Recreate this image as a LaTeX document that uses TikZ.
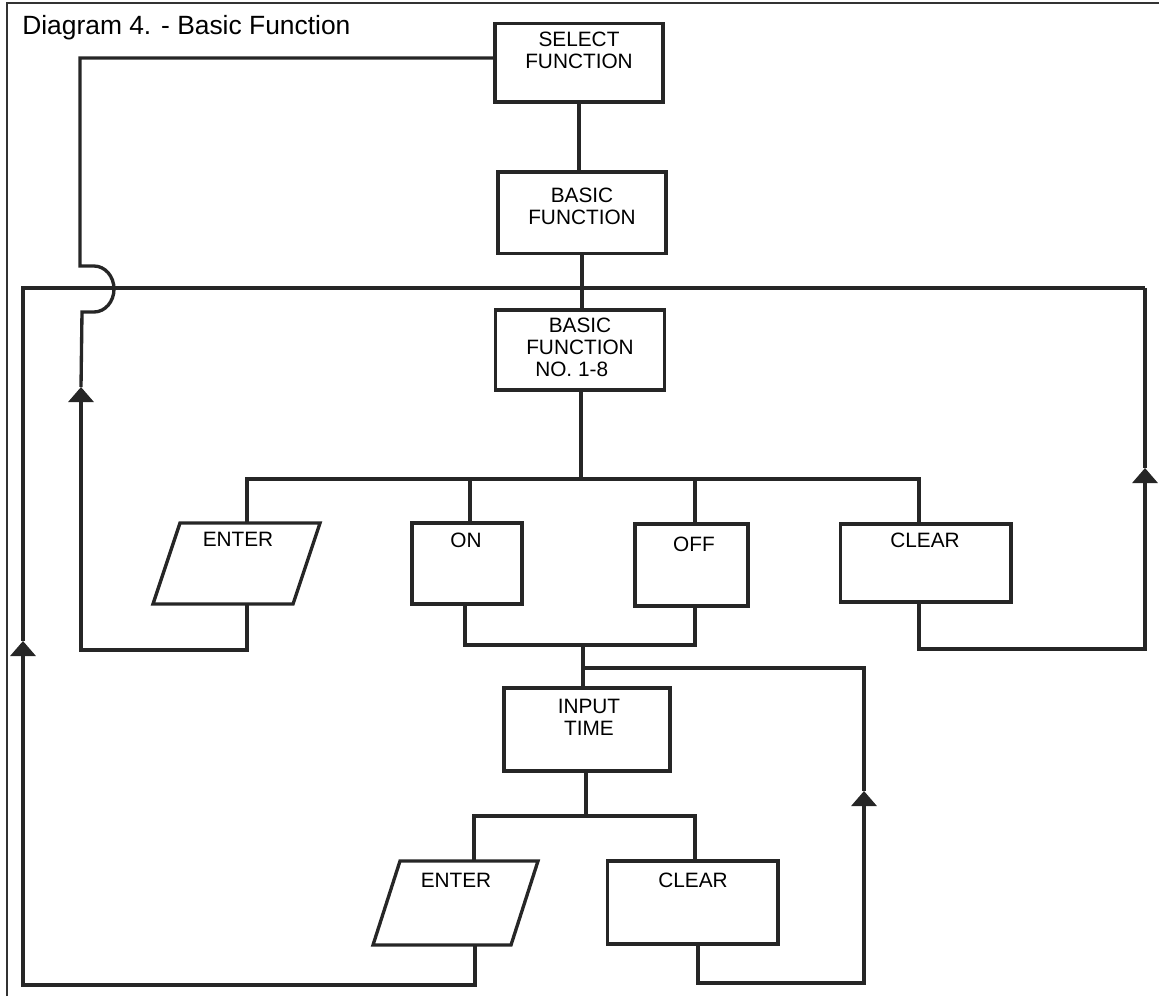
\documentclass[tikz,border=0pt]{standalone}
\usepackage{fontspec}
\setmainfont{Liberation Sans}
\usetikzlibrary{arrows.meta}

\begin{document}
\begin{tikzpicture}[x=0.75pt,y=-0.75pt,
  wire/.style={line width=2.5pt, draw=black!85},
  box/.style={draw=black!85, line width=2.5pt, rectangle, inner sep=0pt},
  para/.style={draw=black!85, line width=2.5pt, line join=miter},
  lab/.style={font=\fontsize{15.6}{16.5}\selectfont, align=center,
    inner sep=0pt, anchor=north},
  up/.style={-{Triangle[width=18.75pt,length=11.25pt]}},
  frame/.style={line width=1.2pt, draw=black!80},
]
\useasboundingbox (0,0) rectangle (1159,996);

% page frame (top and left edges)
\draw[frame] (7,996) -- (7,3) -- (1159,3);

% title
\node[anchor=base west, inner sep=0pt, font=\fontsize{19.8}{23}\selectfont]
  (title) at (22,34) {Diagram 4. - Basic Function};

% rectangular boxes
\node[box, minimum width=126pt, minimum height=59pt] (sel) at (579,62.5) {};
\node[box, minimum width=126pt, minimum height=61pt] (bf)  at (582,212.5) {};
\node[box, minimum width=127pt, minimum height=60pt] (bf8) at (580,350) {};
\node[box, minimum width=82.5pt, minimum height=60.75pt] (on)  at (467,563.5) {};
\node[box, minimum width=84.75pt, minimum height=61.5pt] (off) at (691.5,565) {};
\node[box, minimum width=128pt, minimum height=58.5pt] (clr1) at (925.5,563) {};
\node[box, minimum width=124.5pt, minimum height=62.25pt] (inp) at (587,729.5) {};
\node[box, minimum width=128pt, minimum height=62.25pt] (clr2) at (692.5,902.5) {};

% ENTER parallelograms
\coordinate (e1tl) at (180,523); \coordinate (e1tr) at (320,523);
\coordinate (e1br) at (293,604); \coordinate (e1bl) at (153,604);
\draw[para] (e1tl) -- (e1tr) -- (e1br) -- (e1bl) -- cycle;
\coordinate (e2tl) at (400,861); \coordinate (e2tr) at (538,861);
\coordinate (e2br) at (511,945); \coordinate (e2bl) at (373,945);
\draw[para] (e2tl) -- (e2tr) -- (e2br) -- (e2bl) -- cycle;

% labels
\node[lab] (tsel) at (579,32) {SELECT\\FUNCTION};
\node[lab] (tbf)  at (582,188) {BASIC\\FUNCTION};
\node[lab] (tbf8) at (580,318) {BASIC\\FUNCTION\\NO. 1-8\hspace*{12.5pt}};
\node[lab] (tent1) at (238,532) {ENTER};
\node[lab] (ton)  at (466,533) {ON};
\node[lab] (toff) at (694,537) {OFF};
\node[lab] (tclr1) at (925,533) {CLEAR};
\node[lab] (tinp) at (589,699) {INPUT\\TIME};
\node[lab] (tent2) at (456,873) {ENTER};
\node[lab] (tclr2) at (693,873) {CLEAR};

% connection points
\coordinate (e1top) at (247,523);
\coordinate (e1bot) at (247,604);
\coordinate (e2top) at (474,861);
\coordinate (e2bot) at (475,945);
\coordinate (bus1) at (581,479);
\coordinate (bus2) at (586,816);
\coordinate (jOn) at (583,645);
\coordinate (jBr) at (583,668);
\coordinate (topBus) at (580,288);

% arrow tips on the return lines
\coordinate (aOL) at (23,641);
\coordinate (aIL) at (81,387);
\coordinate (aR) at (1145,468);
\coordinate (aLR) at (864,791);

% main column
\draw[wire] (sel.south -| 579,0) -- (bf.north -| 579,0);
\draw[wire] (bf.south -| 582,0) -- (bf8.north -| 582,0);
\draw[wire] (bf8.south -| bus1) -- (bus1);

% first branch row
\draw[wire] (e1top) -- (e1top |- bus1) -- (919,479) -- (clr1.north -| 919,0);
\draw[wire] (on.north -| 470,0) -- (470,479);
\draw[wire] (off.north -| 695,0) -- (695,479);

% ON / OFF to INPUT TIME
\draw[wire] (on.south -| 465,0) -- (465,645) -- (695,645) -- (off.south -| 695,0);
\draw[wire] (jOn) -- (inp.north -| jOn);

% second branch row
\draw[wire] (inp.south -| bus2) -- (bus2);
\draw[wire] (e2top) -- (e2top |- bus2) -- (695,816) -- (clr2.north -| 695,0);

% CLEAR (lower) back to INPUT TIME
\draw[wire, up] (clr2.south -| 698,0) -- (698,983) -- (aLR |- 0,983) -- (aLR);
\draw[wire] (aLR) -- (aLR |- jBr) -- (jBr);

% ENTER (lower) back to BASIC FUNCTION NO. 1-8
\draw[wire, up] (e2bot) -- (475,985) -- (aOL |- 0,985) -- (aOL);
\draw[wire] (aOL) -- (aOL |- topBus) -- (aR |- topBus);

% CLEAR (upper) back to BASIC FUNCTION NO. 1-8
\draw[wire, up] (clr1.south -| 919,0) -- (919,649) -- (aR |- 0,649) -- (aR);
\draw[wire] (aR) -- (aR |- topBus);

% ENTER (upper) back to SELECT FUNCTION, hopping over the return line
\draw[wire, up] (e1bot) -- (247,650) -- (aIL |- 0,650) -- (aIL);
\draw[wire] (aIL) -- (82,312) -- (94,312)
  arc[start angle=-90, end angle=90, x radius=20, y radius=-23]
  -- (80,266) -- (80,58) -- (sel.west |- 0,58);
\end{tikzpicture}
\end{document}
